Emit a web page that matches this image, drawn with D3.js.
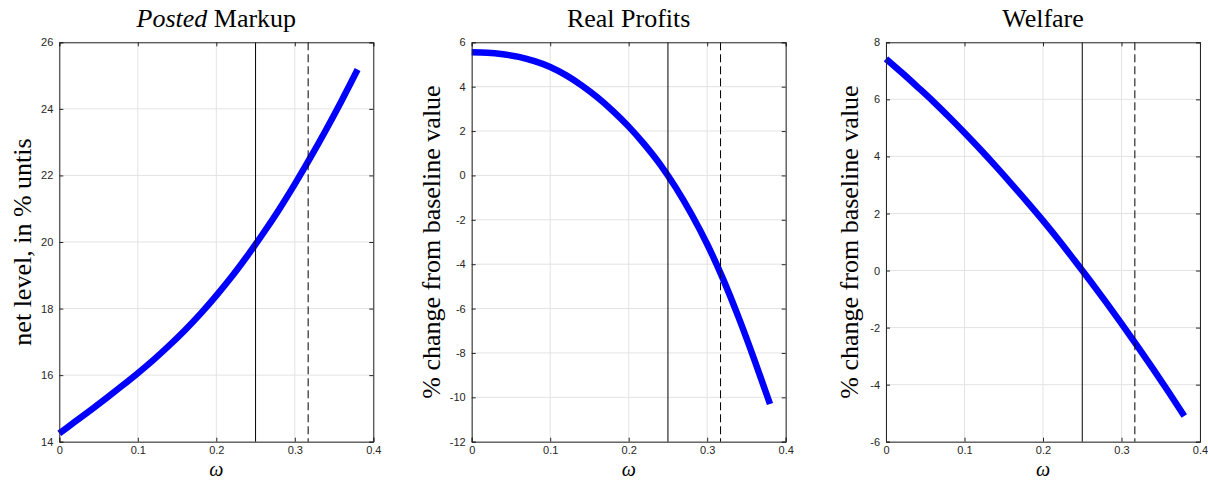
<!DOCTYPE html>
<html>
<head>
<meta charset="utf-8">
<script src="https://cdn.jsdelivr.net/npm/d3@7/dist/d3.min.js"></script>
<style>
  body { margin: 0; background: #fff; }
  svg { display: block; }
  .serif { font-family: "Liberation Serif", "Times New Roman", serif; fill: #000; }
</style>
</head>
<body>
<svg id="chart" width="1208" height="480"></svg>
<script>
// omega grid and the three series
const omega = [0, 0.02, 0.04, 0.06, 0.08, 0.10, 0.12, 0.14, 0.16, 0.18, 0.20,
               0.22, 0.24, 0.26, 0.28, 0.30, 0.32, 0.34, 0.36, 0.38];

const markup = [14.25, 14.60, 14.95, 15.31, 15.68, 16.06, 16.46, 16.89, 17.35, 17.85, 18.39,
                18.97, 19.60, 20.27, 20.98, 21.74, 22.54, 23.38, 24.26, 25.18];

const profits = [5.55, 5.53, 5.46, 5.34, 5.15, 4.89, 4.52, 4.06, 3.52, 2.90, 2.20,
                 1.40, 0.50, -0.55, -1.75, -3.10, -4.65, -6.40, -8.30, -10.30];

const welfare = [7.42, 6.94, 6.44, 5.93, 5.39, 4.83, 4.25, 3.65, 3.03, 2.40, 1.75,
                 1.07, 0.36, -0.36, -1.10, -1.86, -2.64, -3.44, -4.26, -5.10];

// reference lines
const omegaBase = 0.25;
const omegaAlt = 0.317;

// ticks
const xTicks = [0, 0.1, 0.2, 0.3, 0.4];
const markupTicks = [14, 16, 18, 20, 22, 24, 26];
const profitTicks = [-12, -10, -8, -6, -4, -2, 0, 2, 4, 6];
const welfareTicks = [-6, -4, -2, 0, 2, 4, 6, 8];

const panels = [
    { title: ['Posted', ' Markup'], ylabel: 'net level, in % untis', values: markup, ticks: markupTicks, left: 59.3, labelGap: 28 },
    { title: [null, 'Real Profits'], ylabel: '% change from baseline value', values: profits, ticks: profitTicks, left: 471.7, labelGap: 32 },
    { title: [null, 'Welfare'], ylabel: '% change from baseline value', values: welfare, ticks: welfareTicks, left: 886, labelGap: 28 }
];

const svg = d3.select('#chart');
const plotW = 314;
const plotTop = 42.3;
const plotBottom = 441.7;
const axisColor = '#262626';
const gridColor = '#e3e3e3';

panels.forEach(p => {
    const x = d3.scaleLinear().domain([0, 0.4]).range([p.left, p.left + plotW]);
    const y = d3.scaleLinear().domain(d3.extent(p.ticks)).range([plotBottom, plotTop]);
    const g = svg.append('g');

    // grid
    g.append('g').selectAll('line').data(xTicks).enter().append('line')
        .attr('x1', d => x(d)).attr('x2', d => x(d))
        .attr('y1', plotTop).attr('y2', plotBottom)
        .attr('stroke', gridColor).attr('stroke-width', 1);
    g.append('g').selectAll('line').data(p.ticks).enter().append('line')
        .attr('x1', p.left).attr('x2', p.left + plotW)
        .attr('y1', d => y(d)).attr('y2', d => y(d))
        .attr('stroke', gridColor).attr('stroke-width', 1);

    // data line
    const line = d3.line()
        .x((d, i) => x(omega[i]))
        .y(d => y(d))
        .curve(d3.curveMonotoneX);
    g.append('path')
        .datum(p.values)
        .attr('d', line)
        .attr('fill', 'none')
        .attr('stroke', '#0000ff')
        .attr('stroke-width', 6.5);

    // reference lines
    g.append('line')
        .attr('x1', x(omegaBase)).attr('x2', x(omegaBase))
        .attr('y1', plotTop).attr('y2', plotBottom)
        .attr('stroke', '#000').attr('stroke-width', 1);
    g.append('line')
        .attr('x1', x(omegaAlt)).attr('x2', x(omegaAlt))
        .attr('y1', plotTop).attr('y2', plotBottom)
        .attr('stroke', '#000').attr('stroke-width', 1)
        .attr('stroke-dasharray', '8,4');

    // axes, ticks inward on all four sides
    const tickLen = 4;
    g.append('g').attr('transform', `translate(0,${plotBottom})`)
        .call(d3.axisBottom(x).tickValues(xTicks).tickSize(-tickLen).tickPadding(5)
            .tickFormat(d => d === 0 ? '0' : d.toFixed(1)));
    g.append('g').attr('transform', `translate(0,${plotTop})`)
        .call(d3.axisTop(x).tickValues(xTicks).tickSize(-tickLen).tickFormat(''));
    g.append('g').attr('transform', `translate(${p.left},0)`)
        .call(d3.axisLeft(y).tickValues(p.ticks).tickSize(-tickLen).tickPadding(6)
            .tickFormat(d => String(d)));
    g.append('g').attr('transform', `translate(${p.left + plotW},0)`)
        .call(d3.axisRight(y).tickValues(p.ticks).tickSize(-tickLen).tickFormat(''));

    g.selectAll('.domain').attr('stroke', axisColor).attr('stroke-width', 1);
    g.selectAll('.tick line').attr('stroke', axisColor);
    g.selectAll('.tick text').attr('fill', axisColor)
        .style('font-family', '"Liberation Sans", Arial, sans-serif').style('font-size', '11px');

    // title
    const title = g.append('text')
        .attr('class', 'serif')
        .attr('x', p.left + plotW / 2)
        .attr('y', 27)
        .attr('text-anchor', 'middle')
        .style('font-size', '26px');
    if (p.title[0]) title.append('tspan').style('font-style', 'italic').text(p.title[0]);
    title.append('tspan').text(p.title[1]);

    // y label
    g.append('text')
        .attr('class', 'serif')
        .attr('transform', `translate(${p.left - p.labelGap},${(plotTop + plotBottom) / 2}) rotate(-90)`)
        .attr('text-anchor', 'middle')
        .style('font-size', '26px')
        .text(p.ylabel);

    // x label
    g.append('text')
        .attr('class', 'serif')
        .attr('x', p.left + plotW / 2)
        .attr('y', 475.5)
        .attr('text-anchor', 'middle')
        .style('font-size', '20px')
        .style('font-style', 'italic')
        .text('ω');
});
</script>
</body>
</html>
